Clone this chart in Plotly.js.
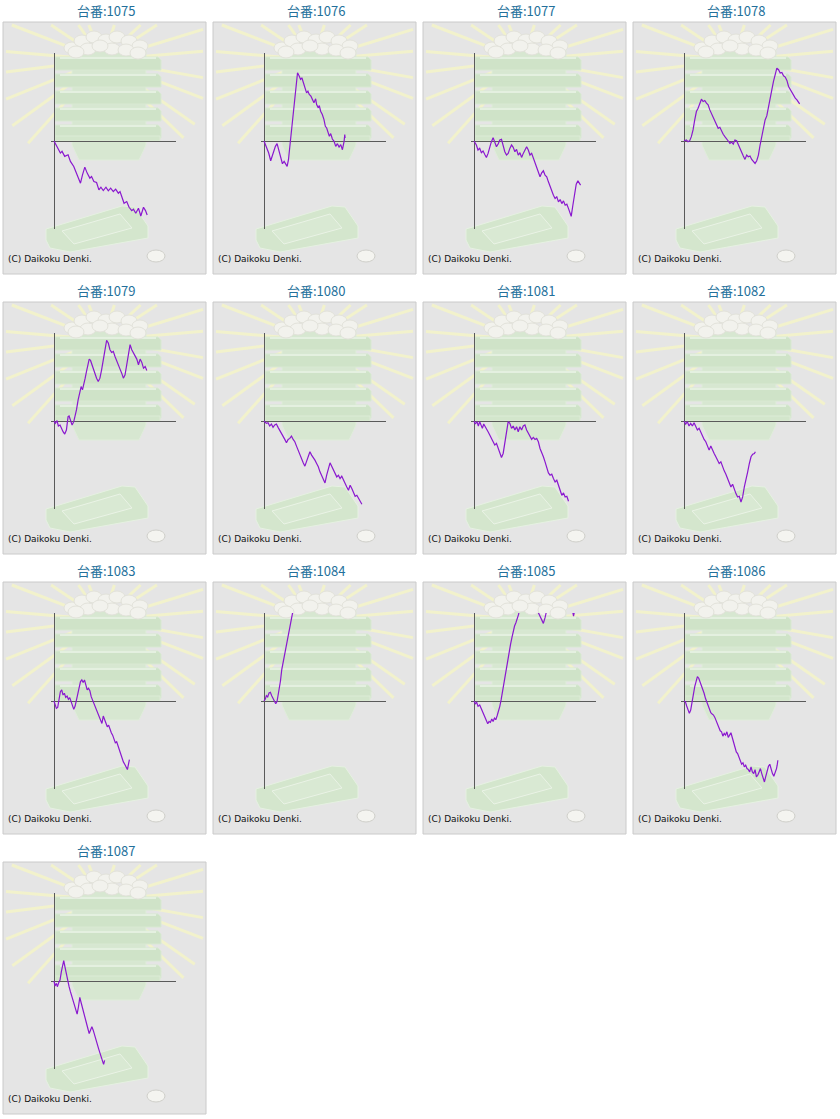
<!DOCTYPE html>
<html>
<head>
<meta charset="utf-8">
<script src="https://cdn.plot.ly/plotly-3.0.1.min.js"></script>
<style>
  body { margin: 0; background: #ffffff; }
  #graph { width: 840px; height: 1119px; }
</style>
</head>
<body>
<div id="graph"></div>
<script>
// machine numbers, one small chart per machine
const machineNos = ['1075', '1076', '1077', '1078', '1079', '1080', '1081', '1082', '1083', '1084', '1085', '1086', '1087'];

// games played (x) and medal difference (y)
const x1075 = [0, 240, 380, 480, 640, 840, 980, 1180, 1340, 1440, 1580, 1700, 1840, 1980, 2140, 2240, 2380, 2540, 2680, 2800, 2940, 3100, 3240, 3380, 3540, 3680, 3840, 3940, 4080, 4180, 4340, 4480, 4640, 4740, 4880, 5040, 5180, 5340, 5460, 5560];
const y1075 = [0, -210, -360, -310, -460, -410, -610, -760, -960, -1060, -1260, -1010, -780, -960, -1110, -1060, -1210, -1240, -1460, -1380, -1480, -1380, -1490, -1410, -1510, -1440, -1560, -1510, -1710, -1860, -1810, -1980, -2080, -2040, -2160, -2010, -2240, -1980, -2080, -2210];

const x1076 = [0, 140, 280, 400, 500, 580, 680, 780, 880, 980, 1100, 1200, 1300, 1380, 1460, 1540, 1640, 1740, 1840, 1940, 2000, 2100, 2180, 2260, 2340, 2440, 2540, 2620, 2700, 2800, 2880, 2980, 3080, 3140, 3240, 3300, 3380, 3480, 3580, 3660, 3740, 3820, 3900, 3980, 4080, 4180, 4280, 4380, 4480, 4580, 4680, 4780, 4820, 4840];
const y1076 = [0, -160, -360, -590, -410, -280, -160, -80, -260, -460, -680, -610, -710, -760, -560, -160, 340, 840, 1340, 1840, 2040, 1940, 1840, 1890, 1740, 1620, 1440, 1490, 1390, 1340, 1240, 1140, 1260, 1090, 990, 1060, 890, 790, 640, 440, 390, 240, 140, 220, 60, -10, -160, -80, -180, -110, -260, -10, 190, 90];

const x1077 = [0, 140, 240, 340, 440, 540, 660, 740, 840, 940, 1020, 1140, 1240, 1340, 1440, 1540, 1640, 1740, 1840, 1940, 2040, 2140, 2240, 2340, 2440, 2540, 2640, 2740, 2840, 2940, 3040, 3140, 3240, 3340, 3440, 3540, 3640, 3740, 3840, 3940, 4040, 4140, 4240, 4340, 4440, 4540, 4640, 4740, 4840, 4940, 5040, 5140, 5240, 5340, 5440, 5540, 5640, 5740, 5800, 5900, 6000, 6100, 6200, 6300, 6360];
const y1077 = [0, -120, -270, -220, -350, -300, -420, -490, -370, -170, -50, 100, -20, -170, -90, 30, 50, -150, -320, -420, -370, -220, -120, -190, -320, -250, -420, -350, -490, -370, -250, -170, -270, -420, -370, -520, -670, -820, -920, -1070, -950, -890, -1020, -1070, -1220, -1370, -1520, -1620, -1720, -1670, -1820, -1750, -1870, -1790, -1920, -1890, -2020, -2170, -2250, -1920, -1570, -1290, -1190, -1250, -1320];

const x1078 = [0, 140, 240, 340, 440, 540, 640, 740, 840, 940, 1040, 1140, 1240, 1340, 1440, 1540, 1640, 1740, 1840, 1940, 2040, 2140, 2240, 2340, 2440, 2540, 2640, 2740, 2840, 2940, 3040, 3140, 3240, 3340, 3440, 3540, 3640, 3740, 3840, 3940, 4040, 4140, 4240, 4340, 4440, 4540, 4640, 4740, 4840, 4940, 5040, 5140, 5240, 5340, 5440, 5540, 5640, 5740, 5840, 5940, 6040, 6140, 6240, 6340, 6440, 6540, 6640, 6740, 6840, 6900];
const y1078 = [0, 30, -20, 10, 130, 330, 630, 880, 980, 1130, 1250, 1180, 1210, 1130, 1080, 930, 830, 710, 580, 480, 380, 410, 280, 200, 130, 80, 0, -70, -30, -90, 30, 10, -120, -220, -350, -450, -550, -420, -470, -450, -550, -620, -670, -590, -420, -120, 130, 410, 630, 750, 980, 1250, 1530, 1780, 2030, 2180, 2130, 2030, 2050, 1950, 1910, 1810, 1630, 1530, 1430, 1380, 1280, 1230, 1150, 1110];

const x1079 = [0, 80, 180, 260, 360, 440, 540, 640, 740, 840, 900, 980, 1080, 1180, 1260, 1340, 1440, 1540, 1620, 1700, 1780, 1860, 1940, 2040, 2100, 2180, 2260, 2340, 2440, 2540, 2640, 2740, 2840, 2940, 3040, 3140, 3240, 3340, 3440, 3540, 3640, 3740, 3840, 3940, 4040, 4140, 4240, 4340, 4440, 4540, 4640, 4740, 4840, 4940, 5040, 5140, 5240, 5340, 5440, 5540];
const y1079 = [0, -70, 10, -150, -120, -220, -320, -390, -270, 130, 150, 30, -120, -20, 130, 330, 630, 880, 1030, 930, 1080, 1280, 1480, 1730, 1850, 1810, 1680, 1580, 1410, 1280, 1180, 1280, 1530, 1830, 2130, 2410, 2330, 2130, 2050, 2080, 1930, 1780, 1680, 1550, 1430, 1280, 1380, 1730, 2030, 2280, 2130, 2030, 1930, 1850, 1680, 1850, 1750, 1580, 1630, 1510];

const x1080 = [0, 140, 240, 340, 440, 540, 640, 740, 840, 940, 1040, 1140, 1240, 1340, 1440, 1540, 1640, 1740, 1840, 1940, 2040, 2140, 2240, 2340, 2440, 2540, 2640, 2740, 2840, 2940, 3040, 3140, 3240, 3340, 3440, 3540, 3640, 3740, 3840, 3940, 4040, 4140, 4240, 4340, 4440, 4540, 4640, 4740, 4840, 4940, 5040, 5140, 5240, 5340, 5440, 5540, 5640, 5740, 5840];
const y1080 = [0, -70, -50, -150, -90, -190, -120, -90, -190, -270, -370, -470, -550, -650, -550, -520, -450, -550, -620, -750, -890, -990, -1120, -1250, -1350, -1220, -1070, -920, -1020, -1090, -1170, -1270, -1370, -1520, -1620, -1750, -1850, -1620, -1420, -1250, -1350, -1470, -1590, -1670, -1620, -1720, -1650, -1770, -1870, -1970, -2070, -1920, -2020, -2120, -2250, -2220, -2320, -2420, -2490];

const x1081 = [0, 80, 180, 260, 340, 420, 500, 580, 660, 740, 840, 940, 1040, 1140, 1240, 1340, 1440, 1540, 1640, 1740, 1840, 1940, 2040, 2140, 2240, 2340, 2440, 2540, 2640, 2740, 2840, 2940, 3040, 3140, 3240, 3340, 3440, 3540, 3640, 3740, 3840, 3940, 4040, 4140, 4240, 4340, 4440, 4540, 4640, 4740, 4840, 4940, 5040, 5140, 5240, 5340, 5440, 5540, 5640];
const y1081 = [0, -90, -20, -150, -20, -120, -220, -90, -150, -220, -320, -420, -520, -620, -720, -670, -820, -950, -1090, -970, -670, -270, -20, -70, -220, -150, -270, -170, -320, -170, -270, -150, -120, -270, -370, -470, -550, -490, -550, -520, -620, -820, -920, -1070, -1220, -1370, -1550, -1620, -1590, -1720, -1820, -1770, -1920, -2070, -2220, -2150, -2270, -2250, -2400];

const x1082 = [0, 100, 200, 300, 400, 500, 600, 700, 800, 900, 1000, 1100, 1200, 1300, 1400, 1500, 1600, 1700, 1800, 1900, 2000, 2100, 2200, 2300, 2400, 2500, 2600, 2700, 2800, 2900, 3000, 3100, 3200, 3300, 3400, 3500, 3600, 3700, 3800, 3900, 4000, 4100, 4200, 4260];
const y1082 = [0, -90, -20, -150, -70, -150, -50, -190, -270, -220, -350, -450, -550, -620, -720, -870, -750, -890, -970, -1070, -1170, -1270, -1220, -1370, -1490, -1590, -1720, -1870, -1970, -1890, -2070, -2170, -2270, -2250, -2420, -2270, -1970, -1770, -1520, -1270, -1070, -990, -970, -920];

const x1083 = [0, 60, 140, 220, 300, 380, 460, 540, 620, 700, 780, 860, 940, 1020, 1100, 1180, 1260, 1340, 1420, 1500, 1580, 1660, 1740, 1820, 1900, 1980, 2060, 2140, 2220, 2300, 2380, 2460, 2540, 2620, 2700, 2780, 2860, 2940, 3020, 3100, 3180, 3260, 3340, 3420, 3500, 3580, 3660, 3740, 3820, 3900, 3980, 4060, 4140, 4220, 4300, 4380, 4460, 4500];
const y1083 = [0, -120, -220, -190, 30, 280, 330, 180, 230, 110, 150, 50, 100, -20, -150, -250, -150, 30, 130, 380, 580, 630, 550, 630, 480, 330, 380, 310, 130, 30, -120, -190, -290, -420, -520, -620, -670, -450, -570, -690, -770, -720, -870, -950, -1020, -1120, -1250, -1220, -1350, -1450, -1570, -1670, -1820, -1890, -1990, -2050, -1850, -1750];

const x1084 = [0, 80, 140, 220, 300, 380, 460, 540, 620, 700, 780, 840, 900, 980, 1060, 1140, 1240, 1340, 1420, 1500, 1580, 1640, 1740, 1860];
const y1084 = [0, 60, 160, 120, 240, 260, 160, 60, -40, -80, -10, 140, 340, 590, 940, 1140, 1390, 1640, 1890, 2140, 2240, 2390, 2640, 3040];

const x1085 = [0, 80, 160, 240, 340, 440, 540, 640, 740, 820, 900, 980, 1060, 1140, 1220, 1300, 1380, 1460, 1540, 1620, 1700, 1780, 1860, 1940, 2020, 2100, 2180, 2260, 2340, 2420, 2500, 2580, 2660, 2740, 3000, 3400, 3760, 3840, 3980, 4140, 4240, 4300, 4380, 5140, 5740, 5900, 5940, 5980, 6060];
const y1085 = [0, -80, -40, -160, -120, -240, -360, -460, -610, -680, -610, -640, -540, -610, -510, -560, -440, -310, -160, 40, 290, 540, 790, 1040, 1260, 1490, 1690, 1890, 2090, 2240, 2340, 2440, 2590, 2800, 3000, 2900, 2750, 2640, 2490, 2320, 2490, 2640, 2800, 2950, 2800, 2640, 2540, 2640, 2760];

const x1086 = [0, 80, 160, 240, 320, 400, 480, 560, 640, 720, 800, 880, 960, 1040, 1120, 1200, 1280, 1360, 1440, 1520, 1600, 1680, 1760, 1840, 1920, 2000, 2080, 2160, 2240, 2320, 2400, 2480, 2560, 2640, 2720, 2800, 2880, 2960, 3040, 3120, 3200, 3280, 3360, 3440, 3520, 3600, 3680, 3760, 3840, 3920, 4000, 4080, 4160, 4240, 4320, 4400, 4480, 4560, 4640, 4720, 4800, 4880, 4960, 5040, 5120, 5200, 5280, 5360, 5440, 5520, 5560, 5600];
const y1086 = [0, -20, -150, -270, -370, -270, -20, 230, 430, 580, 730, 680, 580, 430, 330, 230, 80, -20, -150, -220, -350, -390, -420, -490, -590, -690, -770, -890, -920, -1050, -970, -1020, -920, -1090, -1020, -950, -1090, -1220, -1370, -1520, -1570, -1670, -1770, -1890, -1850, -1970, -1920, -2020, -2050, -2120, -1970, -2120, -2170, -2050, -2270, -2220, -2120, -2020, -2170, -2290, -2420, -2250, -2070, -1950, -1890, -2050, -2170, -2250, -2150, -2020, -1920, -1770];

const x1087 = [0, 60, 140, 200, 280, 360, 440, 520, 580, 660, 740, 820, 900, 980, 1060, 1140, 1220, 1300, 1380, 1460, 1540, 1620, 1700, 1780, 1860, 1940, 2020, 2100, 2180, 2260, 2340, 2420, 2500, 2580, 2660, 2740, 2820, 2900, 2960, 3020];
const y1087 = [0, -150, -70, -170, -50, 30, 280, 530, 610, 410, 180, 30, -170, -320, -470, -570, -720, -890, -990, -770, -490, -650, -820, -970, -1090, -1250, -1420, -1570, -1490, -1370, -1470, -1590, -1750, -1890, -2020, -2150, -2270, -2420, -2490, -2370];

const seriesX = [x1075, x1076, x1077, x1078, x1079, x1080, x1081, x1082, x1083, x1084, x1085, x1086, x1087];
const seriesY = [y1075, y1076, y1077, y1078, y1079, y1080, y1081, y1082, y1083, y1084, y1085, y1086, y1087];

const X_RANGE = [-179, 7280];
const Y_RANGE = [-2630, 2630];

const W = 840, H = 1119;
const COL_W = 210, ROW_H = 280;

// pixel -> paper
function px(x) { return x / W; }
function py(y) { return 1 - y / H; }

// sun ray angles in degrees (screen coords, y down)
const rayAngles = [132, 144, 158, 173, 185, 201, 214, 235, 248, 288, 317, 327, 343, 355, 10, 21, 35, 44];

const shapes = [];
const annotations = [];
const traces = [];
const layout = {
    width: W,
    height: H,
    margin: { l: 0, r: 0, t: 0, b: 0 },
    paper_bgcolor: '#ffffff',
    plot_bgcolor: 'rgba(0,0,0,0)',
    showlegend: false,
    hovermode: false
};

function rect(x0, y0, x1, y1, fill, line, lw) {
    shapes.push({
        type: 'rect', xref: 'paper', yref: 'paper', layer: 'below',
        x0: px(x0), y0: py(y0), x1: px(x1), y1: py(y1),
        fillcolor: fill, line: { color: line, width: lw === undefined ? 1 : lw }
    });
}

function oval(x0, y0, x1, y1, fill, line) {
    shapes.push({
        type: 'circle', xref: 'paper', yref: 'paper', layer: 'below',
        x0: px(x0), y0: py(y0), x1: px(x1), y1: py(y1),
        fillcolor: fill, line: { color: line, width: 1 }
    });
}

function seg(x0, y0, x1, y1, color, w) {
    shapes.push({
        type: 'line', xref: 'paper', yref: 'paper', layer: 'below',
        x0: px(x0), y0: py(y0), x1: px(x1), y1: py(y1),
        line: { color: color, width: w }
    });
}

function poly(pts, fill, line) {
    let d = '';
    pts.forEach((p, k) => { d += (k === 0 ? 'M' : 'L') + px(p[0]).toFixed(5) + ',' + py(p[1]).toFixed(5) + ' '; });
    shapes.push({
        type: 'path', xref: 'paper', yref: 'paper', layer: 'below',
        path: d + 'Z', fillcolor: fill, line: { color: line, width: 1 }
    });
}

function decor(ox, oy) {
    // panel box
    rect(ox + 3, oy + 22, ox + 206, oy + 274, '#e5e5e5', '#cacaca', 1);

    // rays
    const cx = ox + 103, cy = oy + 60;
    const bx0 = ox + 6, bx1 = ox + 203, by0 = oy + 25, by1 = oy + 271;
    rayAngles.forEach(a => {
        const r = a * Math.PI / 180;
        const dx = Math.cos(r), dy = Math.sin(r);
        let t = 112;
        if (dx > 0) t = Math.min(t, (bx1 - cx) / dx);
        if (dx < 0) t = Math.min(t, (bx0 - cx) / dx);
        if (dy > 0) t = Math.min(t, (by1 - cy) / dy);
        if (dy < 0) t = Math.min(t, (by0 - cy) / dy);
        seg(cx + dx * 25, cy + dy * 25, cx + dx * t, cy + dy * t, '#f2f2cc', 3);
    });

    // tower body
    poly([[ox + 72, oy + 50], [ox + 146, oy + 50], [ox + 146, oy + 145], [ox + 139, oy + 160], [ox + 79, oy + 160], [ox + 72, oy + 145]], '#d7e7d1', '#e0eddb');
    // stacked slabs
    [56, 73, 90, 107, 124].forEach(t => {
        poly([[ox + 55, oy + t + 1], [ox + 158, oy + t + 1], [ox + 161, oy + t + 4], [ox + 161, oy + t + 14], [ox + 55, oy + t + 14]], '#cfe3c8', '#d9e9d3');
        seg(ox + 60, oy + t + 2, ox + 156, oy + t + 2, '#e4f0e0', 2);
    });
    rect(ox + 55, oy + 136, ox + 160, oy + 141, '#d3e6cc', '#dcebd6', 1);
    // white balls on top
    [[72, 48], [82, 41], [94, 37], [106, 40], [117, 37], [129, 41], [140, 46], [88, 49], [112, 49], [126, 50], [100, 46], [76, 52], [138, 53]].forEach(b => {
        oval(ox + b[0] - 8, oy + b[1] - 6, ox + b[0] + 8, oy + b[1] + 6, '#f2f2ed', '#e2e2da');
    });

    // bottom tray
    poly([[ox + 46, oy + 229], [ox + 122, oy + 206], [ox + 135, oy + 207], [ox + 148, oy + 226], [ox + 148, oy + 238], [ox + 70, oy + 252], [ox + 50, oy + 248], [ox + 46, oy + 240]], '#d4e6cd', '#e6f1e2');
    poly([[ox + 62, oy + 231], [ox + 120, oy + 214], [ox + 132, oy + 228], [ox + 74, oy + 244]], '#d9e9d3', '#eaf3e6');
    // coin
    oval(ox + 147, oy + 250, ox + 165, oy + 262, '#f4f4f0', '#cfcfca');
}

machineNos.forEach((no, i) => {
    const col = i % 4, row = Math.floor(i / 4);
    const ox = col * COL_W, oy = row * ROW_H;
    const n = i + 1;
    const xa = n === 1 ? 'xaxis' : 'xaxis' + n;
    const ya = n === 1 ? 'yaxis' : 'yaxis' + n;

    decor(ox, oy);

    layout[xa] = {
        domain: [px(ox + 51), px(ox + 176)],
        range: X_RANGE,
        anchor: n === 1 ? 'y' : 'y' + n,
        showgrid: false, showticklabels: false, ticks: '',
        showline: false,
        zeroline: true, zerolinecolor: '#5a5a5a', zerolinewidth: 1,
        fixedrange: true
    };
    layout[ya] = {
        domain: [py(oy + 229), py(oy + 53)],
        range: Y_RANGE,
        anchor: n === 1 ? 'x' : 'x' + n,
        showgrid: false, showticklabels: false, ticks: '',
        showline: false,
        zeroline: true, zerolinecolor: '#5a5a5a', zerolinewidth: 1,
        fixedrange: true
    };

    traces.push({
        x: seriesX[i],
        y: seriesY[i],
        xaxis: n === 1 ? 'x' : 'x' + n,
        yaxis: n === 1 ? 'y' : 'y' + n,
        type: 'scatter',
        mode: 'lines',
        line: { color: '#8a18cf', width: 1.2 },
        hoverinfo: 'skip'
    });

    annotations.push({
        xref: 'paper', yref: 'paper',
        x: px(ox + 106), y: py(oy + 10),
        xanchor: 'center', yanchor: 'middle',
        text: '台番:' + no,
        showarrow: false,
        font: { family: 'Noto Sans CJK JP, sans-serif', size: 13, color: '#24709b' }
    });
    annotations.push({
        xref: 'paper', yref: 'paper',
        x: px(ox + 6), y: py(oy + 259),
        xanchor: 'left', yanchor: 'middle',
        text: '(C) Daikoku Denki.',
        showarrow: false,
        font: { family: 'DejaVu Sans, sans-serif', size: 9, color: '#111111' }
    });
});

layout.shapes = shapes;
layout.annotations = annotations;

Plotly.newPlot('graph', traces, layout, { displayModeBar: false, staticPlot: true });
</script>
</body>
</html>
